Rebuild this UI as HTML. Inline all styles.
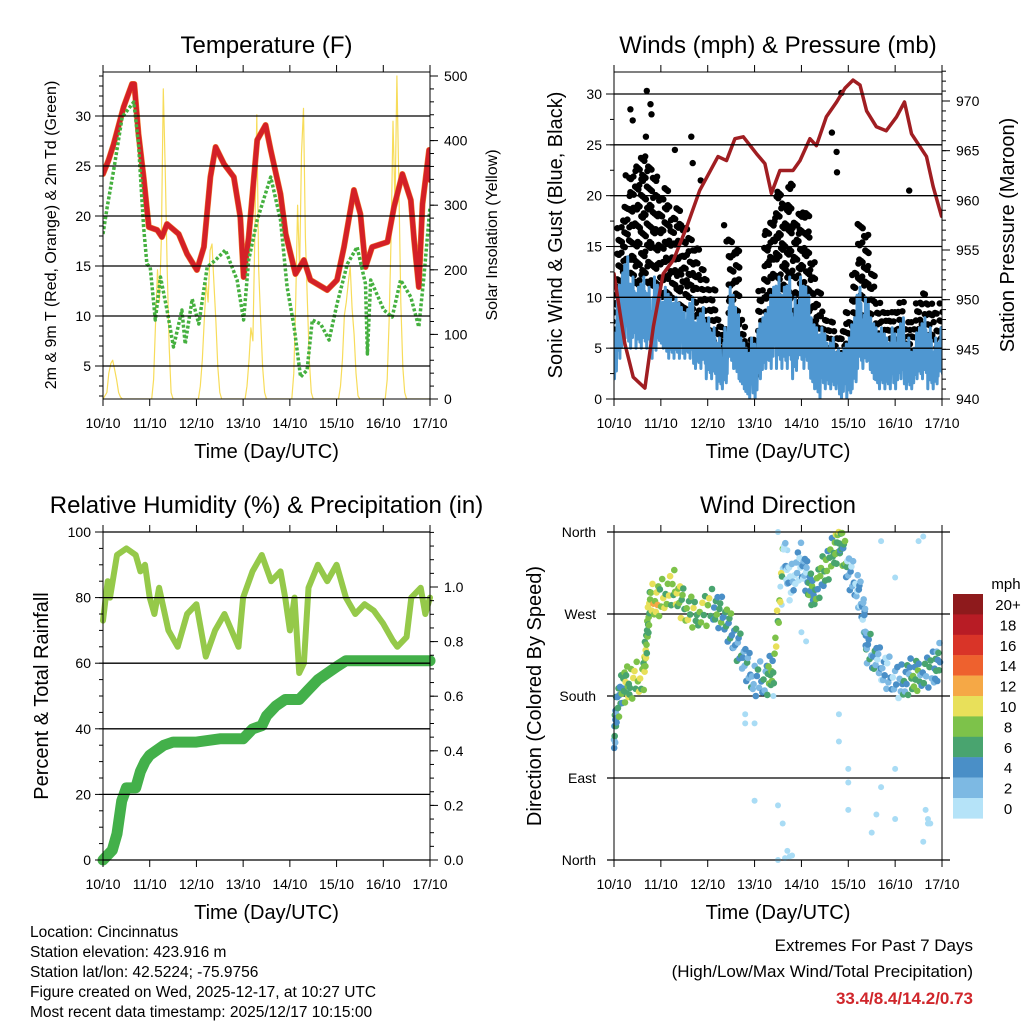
<!DOCTYPE html>
<html><head><meta charset="utf-8"><style>
html,body{margin:0;padding:0;background:#fff}
svg{display:block;font-family:"Liberation Sans",Arial,sans-serif}
</style></head><body>
<svg id="fig" width="1024" height="1024" viewBox="0 0 1024 1024">
<g id="p1"></g>
<g id="p2"></g>
<g id="p3"></g>
<g id="p4"></g>
<g font-size="15.5" fill="#000">
<text x="30" y="937">Location: Cincinnatus</text>
<text x="30" y="957">Station elevation: 423.916 m</text>
<text x="30" y="977">Station lat/lon: 42.5224; -75.9756</text>
<text x="30" y="997">Figure created on Wed, 2025-12-17, at 10:27 UTC</text>
<text x="30" y="1017">Most recent data timestamp: 2025/12/17 10:15:00</text>
</g>
<g text-anchor="end">
<text x="973" y="951" font-size="17">Extremes For Past 7 Days</text>
<text x="973" y="977" font-size="17">(High/Low/Max Wind/Total Precipitation)</text>
<text x="973" y="1004" font-size="17" font-weight="bold" fill="#d0262b">33.4/8.4/14.2/0.73</text>
</g>
</svg>
<script>
// ---------- data ----------
const dayLabels = ["10/10","11/10","12/10","13/10","14/10","15/10","16/10","17/10"];
const tempT = [0,0.12,0.23,0.44,0.62,0.67,0.76,0.87,0.98,1.16,1.26,1.37,1.62,1.8,2.01,2.16,2.3,2.41,2.59,2.8,2.94,3.01,3.12,3.3,3.48,3.59,3.8,3.91,4.12,4.3,4.44,4.8,5.01,5.16,5.37,5.51,5.62,5.76,6.09,6.23,6.41,6.59,6.66,6.76,6.84,6.98,7.0];
const tempV = [24.2,25.6,27.2,30.9,33.2,33.2,28.2,23.9,18.9,18.6,17.9,19.2,18.2,16.2,14.6,16.9,23.9,26.9,25.2,23.9,19.9,13.9,17.9,27.6,29.1,26.6,22.2,18.2,14.2,15.6,13.6,12.6,13.6,16.9,22.6,20.2,14.9,16.9,17.4,20.9,24.2,21.6,17.6,12.9,21.2,26.6,23.6];
const dewT = [0,0.09,0.23,0.41,0.66,0.76,0.87,0.94,1.01,1.12,1.23,1.37,1.51,1.69,1.76,1.91,2.05,2.23,2.41,2.62,2.87,3.01,3.12,3.3,3.59,3.8,3.94,4.09,4.23,4.37,4.48,4.66,4.84,5.01,5.23,5.44,5.62,5.66,5.73,6.01,6.19,6.37,6.59,6.76,6.87,7.0];
const dewV = [18.2,20.9,24.6,29.9,31.4,27.2,18.9,15.2,14.9,9.6,13.9,10.6,6.9,10.6,7.2,11.7,9.2,14.9,15.6,16.6,13.6,9.6,15.6,19.6,23.9,19.6,12.9,8.9,3.9,4.6,9.6,9.2,7.6,11.2,15.2,16.9,13.2,6.2,13.6,10.6,9.9,13.6,11.9,8.9,13.9,20.9];
const solarH = [0,2,3,4,5,6,7,8,9,10,25,26,27,28,29,30,31,32,33,34,35,36,49,50,51,52,53,54,55,56,57,58,59,60,61,73,74,75,76,77,78,79,80,81,82,83,84,97,98,99,100,101,102,103,104,105,106,107,108,121,122,123,124,125,126,127,128,129,130,131,132,145,146,147,148,149,150,151,152,153,154,155,156,168];
const solarV = [0,10,40,55,60,45,30,10,3,0,0,30,120,200,150,250,480,350,200,80,10,0,0,20,60,120,180,150,230,240,180,120,50,10,0,0,20,60,110,90,250,440,200,120,50,10,0,0,40,150,300,200,380,450,250,150,60,10,0,0,20,60,130,150,180,205,140,100,40,5,0,0,30,120,250,430,300,500,330,150,50,10,0,0];
const pressT = [0,0.13,0.23,0.41,0.66,0.84,1.05,1.27,1.55,1.83,2.22,2.4,2.58,2.76,3.04,3.22,3.36,3.54,3.82,3.97,4.18,4.32,4.53,4.75,4.93,5.1,5.25,5.39,5.6,5.81,6.03,6.2,6.35,6.67,6.81,6.99];
const pressV = [952.6,948.6,945.6,942.2,941.1,947.3,952.6,954,957.3,961,964.4,964,966.2,966.4,964.7,963.7,960.7,963,963,964,966.2,965.5,968.4,969.9,971.3,972.1,971.6,969,967.4,967,968.4,969.9,966.7,964.4,961.4,958.4];
const windHi = [7,12,14,12,11,12,11,12,10,11,10,10,9,10,8,9,8,7,6,7,11,9,6,5,6,8,9,11,12,11,12,10,12,11,8,7,7,6,5,5,6,8,11,10,8,7,7,6,7,8,6,5,7,8,7,6,7];
const windLo = [2,4,6,5,5,5,5,4,5,4,4,4,4,4,3,3,2,2,1,1,3,2,1,0,0,2,3,3,3,3,3,2,3,3,1,0,1,1,1,0,0,1,3,3,2,1,1,1,1,2,1,1,2,2,1,1,2];
const gustHi = [12,17,19,22,23,24,23,22,20,21,18,19,17,16,15,13,12,11,8,7,16,15,8,6,6,11,17,18,21,20,22,18,19,19,14,11,9,8,7,7,9,13,18,17,13,10,9,9,9,10,8,8,10,11,10,9,10];
const gustLo = [6,8,10,11,10,11,10,10,9,9,9,8,8,8,6,6,5,4,3,3,6,5,3,2,2,4,6,6,7,6,7,6,7,6,4,3,3,2,2,2,2,4,6,6,4,3,3,3,3,4,3,3,4,4,3,3,4];
const outlierT = [0.35,0.4,0.7,0.78,0.8,0.68,1.3,1.65,1.68,2.35,2.4,4.65,4.75,4.76,4.85,6.3,0.25,1.85];
const outlierV = [28.5,27.4,30.3,29,28,25.8,24.5,25.8,23.2,17.1,15.5,26.2,24.3,22.3,30.1,20.5,22,21.5];
const rhT = [0,0.1,0.15,0.3,0.5,0.7,0.8,0.9,1.0,1.1,1.2,1.4,1.6,1.8,2.0,2.2,2.4,2.6,2.9,3.0,3.2,3.4,3.6,3.8,3.9,4.0,4.1,4.2,4.3,4.4,4.6,4.8,5.0,5.2,5.4,5.6,5.8,6.0,6.2,6.3,6.5,6.6,6.8,6.9,7.0];
const rhV = [73,85,80,93,95,93,88,90,80,75,83,70,65,75,78,62,70,75,65,80,88,93,85,88,80,70,80,57,60,83,90,85,90,80,75,78,76,72,67,65,68,80,83,75,80];
const rainT = [0,0.2,0.3,0.4,0.5,0.7,0.8,0.9,1.0,1.1,1.3,1.5,2.0,2.5,3.0,3.2,3.4,3.5,3.7,3.9,4.2,4.4,4.6,4.8,5.0,5.2,7.0];
const rainV = [0,0.036,0.096,0.216,0.264,0.264,0.324,0.36,0.384,0.396,0.42,0.432,0.432,0.444,0.444,0.48,0.492,0.528,0.564,0.588,0.588,0.624,0.66,0.684,0.708,0.73,0.73];
const dirT = [0,0.06,0.2,0.34,0.63,0.7,0.77,0.98,1.27,1.48,1.77,2.12,2.34,2.55,2.77,2.98,3.26,3.41,3.62,3.76,3.98,4.12,4.26,4.47,4.69,4.83,4.98,5.19,5.33,5.4,5.62,5.83,6.12,6.33,6.54,6.83,6.97];
const dirV = [132,168,190,194,201,245,282,286,300,278,271,278,267,245,220,198,198,212,337,300,330,308,293,315,337,352,319,300,271,234,216,205,194,201,205,209,220];
const dirS = [5,6,8,9,9,8,10,9,9,8,8,6,6,5,4,4,7,9,2,2,3,6,7,7,8,7,3,3,4,5,3,3,5,7,5,5,6];
const strayT = [3.0,3.0,3.5,3.6,3.7,3.8,3.5,5.0,5.0,5.0,5.5,5.6,5.7,6.0,6.0,6.6,6.7,6.5,6.6,6.0,5.7,4.8,4.8,3.4,2.8,2.8,3.65,3.75,3.55,3.6,3.7,3.5,3.58,4.0,4.1,6.7,6.75,6.65];
const strayV = [150,65,60,40,10,5,0,100,55,85,30,50,80,100,45,20,40,350,355,310,350,130,160,180,160,150,2,4,300,320,340,360,280,250,240,45,40,55];
const cbLabels = ["20+","18","16","14","12","10","8","6","4","2","0"];
const cbColors = ["#8e1a1c","#b81c25","#d93428","#ee612e","#f5a846","#e8e05a","#7dc24a","#49a46f","#4a8fc7","#7db9e3","#b5e3f8"];

// ---------- helpers ----------
const NS="http://www.w3.org/2000/svg";
function mk(parent,tag,attrs){const e=document.createElementNS(NS,tag);for(const k in attrs)e.setAttribute(k,attrs[k]);parent.appendChild(e);return e;}
function scale(d0,d1,r0,r1){return v=>r0+(v-d0)*(r1-r0)/(d1-d0);}
function txt(parent,x,y,s,size,anchor,rot){const e=mk(parent,"text",{x:x,y:y,"font-size":size,"text-anchor":anchor||"middle"});if(rot)e.setAttribute("transform","rotate(-90 "+x+" "+y+")");e.textContent=s;return e;}

function frame(g,L,R,T,B,title,xs){
  const t=txt(g,(L+R)/2,T-19,title,24);
  
  
  const r=mk(g,"rect",{x:L,y:T,width:R-L,height:B-T,fill:"none",stroke:"#000","stroke-width":1});
  
  
  for(let i=0;i<dayLabels.length;i++){
    const x=xs(i);
    mk(g,"line",{x1:x,y1:B,x2:x,y2:B+7,stroke:"#000"});
    mk(g,"line",{x1:x,y1:T,x2:x,y2:T-7,stroke:"#000"});
    const l=txt(g,x,B+29,dayLabels[i],14);
    
    
  }
  const xt=txt(g,(L+R)/2,B+59,"Time (Day/UTC)",20);
  
  
}
function yTicks(g,side,X,vals,ys,labels,minorStep,lo,hi,grid,L,R){
  const dir=side==="L"?-1:1;
  for(let i=0;i<vals.length;i++){
    const y=ys(vals[i]);
    if(grid){const gl=mk(g,"line",{x1:L,y1:y,x2:R,y2:y,stroke:"#000","stroke-width":1.3});}
    mk(g,"line",{x1:X,y1:y,x2:X+dir*8,y2:y,stroke:"#000"});
    const t=txt(g,X+dir*(side==="L"?12:14),y+5,labels[i],14,side==="L"?"end":"start");
    
    
  }
  if(minorStep){for(let v=lo;v<=hi+1e-9;v+=minorStep){const y=ys(v);mk(g,"line",{x1:X,y1:y,x2:X+dir*4,y2:y,stroke:"#000"});}}
}
function poly(g,xs,ys,T,V,attrs,name){
  let p="";for(let i=0;i<T.length;i++)p+=(i?"L":"M")+xs(T[i]).toFixed(1)+","+ys(V[i]).toFixed(1);
  const e=mk(g,"path",Object.assign({d:p,fill:"none","stroke-linejoin":"round","stroke-linecap":"round"},attrs));
  
  
  return e;
}

// ---------- Panel 1 ----------
(function(){
  const g=document.getElementById("p1");
  const L=103,R=430,T=72,B=399;
  const xd=scale(0,7,L,R), yT=scale(30,5,116,366), yS=scale(0,500,B,76);
  const clip=mk(g,"clipPath",{id:"c1"});mk(clip,"rect",{x:L,y:T,width:R-L,height:B-T});
  const d=mk(g,"g",{"clip-path":"url(#c1)"});
  yTicks(g,"L",L,[5,10,15,20,25,30],yT,["5","10","15","20","25","30"],1,2,34,true,L,R);
  yTicks(g,"R",R,[0,100,200,300,400,500],yS,["0","100","200","300","400","500"],20,0,500,false);
  poly(d,h=>xd(h/24),yS,solarH,solarV,{stroke:"#f7dc5a","stroke-width":1.2},"solar-line");
  poly(d,xd,yT,tempT,tempV,{stroke:"#f08030","stroke-width":6},"temp-9m-line");
  poly(d,xd,yT,tempT,tempV,{stroke:"#d42027","stroke-width":5},"temp-2m-line");
  const dp=poly(d,xd,yT,dewT,dewV,{stroke:"#45b03f","stroke-width":3.5,"stroke-dasharray":"3 2"},"dewpoint-line");
  dp.setAttribute("stroke-linecap","butt");
  frame(g,L,R,T,B,"Temperature (F)",i=>xd(i));
  const a=txt(g,56,235,"2m & 9m T (Red, Orange) & 2m Td (Green)",16,"middle",true);
  
  const b=txt(g,497,235,"Solar Insolation (Yellow)",16,"middle",true);
  
})();

// ---------- Panel 2 ----------
(function(){
  const g=document.getElementById("p2");
  const L=614,R=942,T=72,B=399;
  const xd=scale(0,7,L,R), yW=scale(0,30,B,94), yP=scale(940,970,B,101);
  const clip=mk(g,"clipPath",{id:"c2"});mk(clip,"rect",{x:L,y:T,width:R-L,height:B-T});
  const d=mk(g,"g",{"clip-path":"url(#c2)"});
  yTicks(g,"L",L,[0,5,10,15,20,25,30],yW,["0","5","10","15","20","25","30"],2.5,0,32,true,L,R);
  yTicks(g,"R",R,[940,945,950,955,960,965,970],yP,["940","945","950","955","960","965","970"],1,940,973,false);
  for(let i=0;i<gustHi.length;i++){
    const n=Math.max(4,Math.round((gustHi[i]-gustLo[i])*2.2));
    for(let k=0;k<n;k++){
      const fv=((k+i)*0.5698403)%1, ft=((k+i*3)*0.7548777)%1;
      const v=gustLo[i]+(gustHi[i]-gustLo[i])*fv;
      const tt=(i*3-1.5+3*ft)/24;
      const c=mk(d,"circle",{cx:xd(tt).toFixed(1),cy:yW(v).toFixed(1),r:3.2,fill:"#000"});
      
      
    }
  }
  for(let i=0;i<outlierT.length;i++){
    const c=mk(d,"circle",{cx:xd(outlierT[i]).toFixed(1),cy:yW(outlierV[i]).toFixed(1),r:3.2,fill:"#000"});
    
    
  }
  let p="";
  const pat=[1,0.35,0.8,0.1,0.6,0.25,0.9,0,0.5,0.3,0.75,0.15];
  for(let i=0;i<windHi.length;i++){
    for(let k=0;k<12;k++){
      const tt=(i*3-1.5+k*0.25)/24;
      const v=windLo[i]+(windHi[i]-windLo[i])*pat[(k+i)%12];
      p+=(p?"L":"M")+xd(tt).toFixed(1)+","+yW(v).toFixed(1);
    }
  }
  const w=mk(d,"path",{d:p,fill:"none",stroke:"#4f97d1","stroke-width":3,"stroke-linejoin":"round"});
  
  
  poly(d,xd,yP,pressT,pressV,{stroke:"#a01e22","stroke-width":3.5},"pressure-line");
  frame(g,L,R,T,B,"Winds (mph) & Pressure (mb)",i=>xd(i));
  const a=txt(g,562,235,"Sonic Wind & Gust (Blue, Black)",20,"middle",true);
  
  const b=txt(g,1014,235,"Station Pressure (Maroon)",20,"middle",true);
  
})();

// ---------- Panel 3 ----------
(function(){
  const g=document.getElementById("p3");
  const L=103,R=430,T=532,B=860;
  const xd=scale(0,7,L,R), yH=scale(0,100,B,532), yR=scale(0,1,B,587);
  const clip=mk(g,"clipPath",{id:"c3"});mk(clip,"rect",{x:L-6,y:T,width:R-L+12,height:B-T+6});
  const d=mk(g,"g",{"clip-path":"url(#c3)"});
  yTicks(g,"L",L,[0,20,40,60,80,100],yH,["0","20","40","60","80","100"],5,0,100,true,L,R);
  yTicks(g,"R",R,[0,0.2,0.4,0.6,0.8,1.0],yR,["0.0","0.2","0.4","0.6","0.8","1.0"],0.05,0,1.2,false);
  poly(d,xd,yH,rhT,rhV,{stroke:"#95c94a","stroke-width":6},"rh-line");
  poly(d,xd,yR,rainT,rainV,{stroke:"#43b04a","stroke-width":11},"precip-line");
  frame(g,L,R,T,B,"Relative Humidity (%) & Precipitation (in)",i=>xd(i));
  const a=txt(g,48,696,"Percent & Total Rainfall",20,"middle",true);
  
})();

// ---------- Panel 4 ----------
(function(){
  const g=document.getElementById("p4");
  const L=614,R=942,T=532,B=860;
  const xd=scale(0,7,L,R), yD=scale(0,360,B,T);
  const vals=[0,90,180,270,360], labs=["North","East","South","West","North"];
  for(let i=0;i<vals.length;i++){
    const y=yD(vals[i]);
    const gl=mk(g,"line",{x1:607,y1:y,x2:950,y2:y,stroke:"#000","stroke-width":1.2});
    
    const t=txt(g,596,y+5,labs[i],14,"end");
    
  }
  const col=s=>cbColors[10-Math.min(10,Math.max(0,Math.floor(s/2)))];
  for(let i=0;i<strayT.length;i++){
    const c=mk(g,"circle",{cx:xd(strayT[i]),cy:yD(strayV[i]),r:3,fill:"#a9dcf5"});
    
  }
  const off=[0,-12,9,-5,15,-18,4,11,-9,20,-2,-14];
  for(let i=0;i<dirT.length-1;i++){
    for(let k=0;k<12;k++){
      const f=k/12;
      const tt=dirT[i]+(dirT[i+1]-dirT[i])*f;
      const v=Math.min(360,dirV[i]+(dirV[i+1]-dirV[i])*f+off[(k+i)%12]);
      const s=dirS[i]+((k%5)-2);
      const c=mk(g,"circle",{cx:xd(tt).toFixed(1),cy:yD(v).toFixed(1),r:3.3,fill:col(s)});
      
    }
  }
  frame(g,L,R,T,B,"Wind Direction",i=>xd(i));
  const a=txt(g,541,696,"Direction (Colored By Speed)",20,"middle",true);
  
  const cb=mk(g,"g",{});
  
  const u=txt(cb,1006,589,"mph",15);
  
  for(let i=0;i<cbLabels.length;i++){
    const y=594+i*20.4;
    const r=mk(cb,"rect",{x:953,y:y,width:30,height:20.6,fill:cbColors[i]});
    
    const t=txt(cb,1008,y+16,cbLabels[i],15);
    
  }
})();
</script>
</body></html>
